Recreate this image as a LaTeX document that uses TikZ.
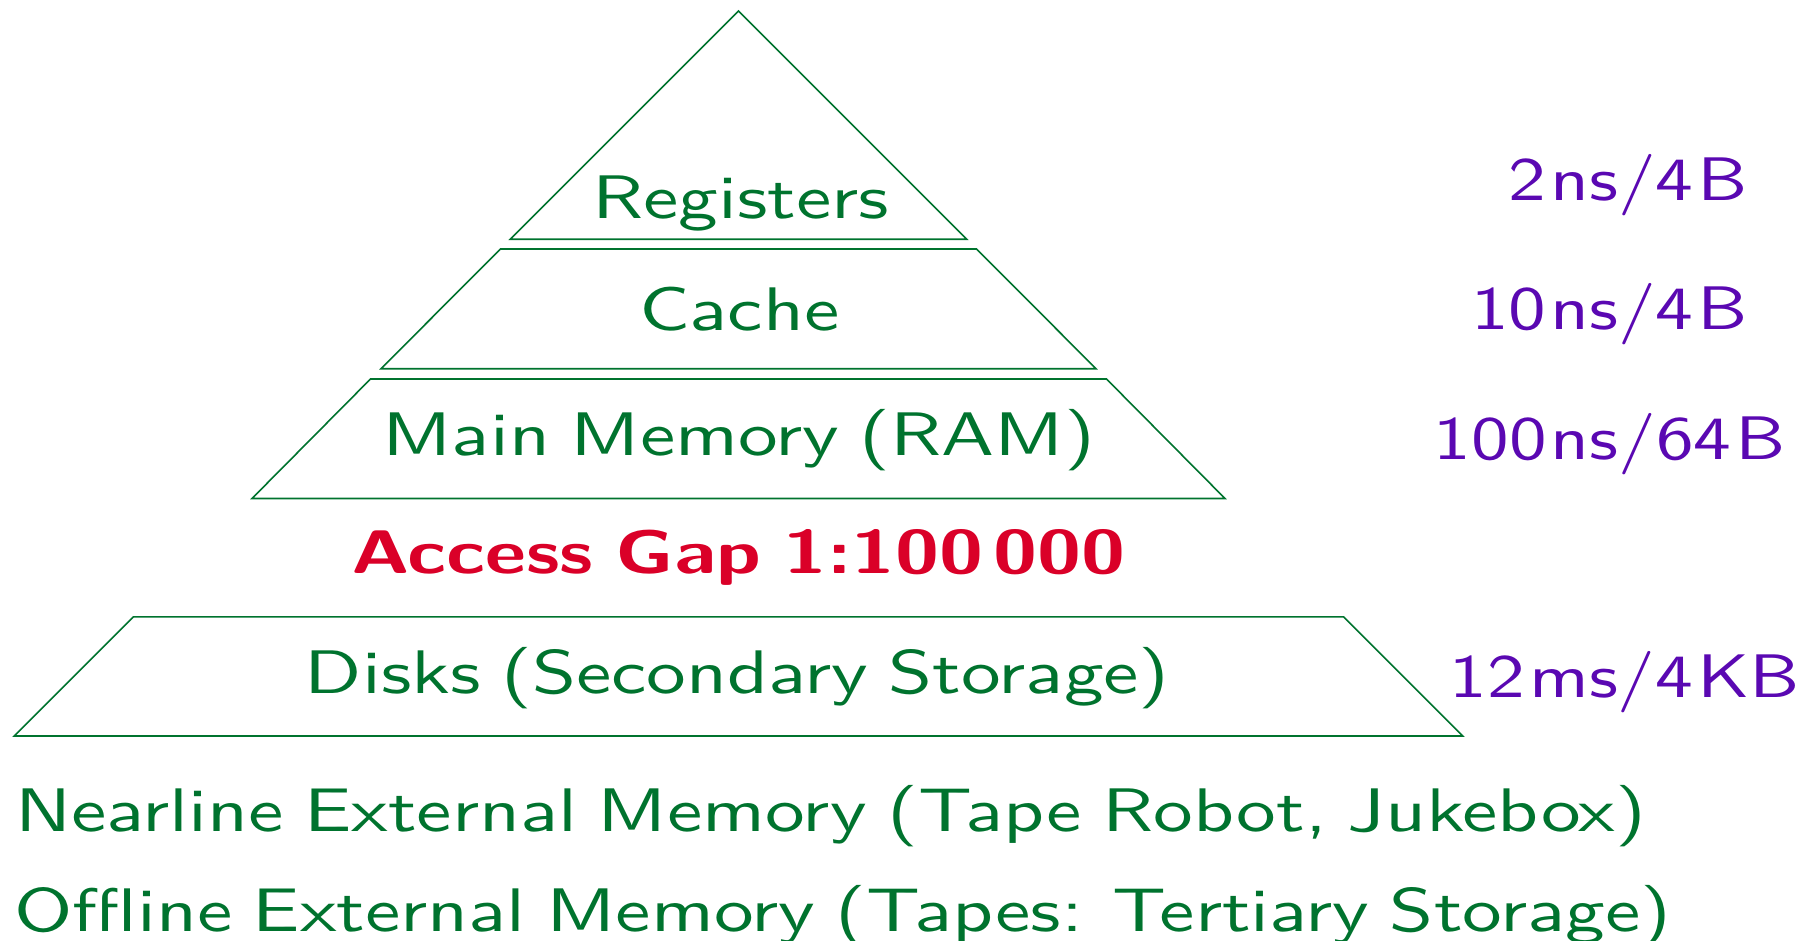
\documentclass[tikz,border=0pt]{standalone}
\font\grfont="[lmsans10-regular]:mapping=tex-text;extend=1.29" at 61.5pt
\fontdimen2\grfont=20.5pt
\font\tmfont="[lmsans10-regular]:mapping=tex-text;extend=1.225" at 61.5pt
\font\bxfont="[lmsans10-bold]:mapping=tex-text;extend=1.3" at 61.5pt
\fontdimen2\bxfont=22pt
\definecolor{grn}{RGB}{0,115,46}
\definecolor{prp}{RGB}{90,8,178}
\definecolor{rd}{RGB}{218,0,40}
\newcommand{\tsp}{\kern 4pt}
\tikzset{
  lvl/.style={draw=grn, line width=1.6pt, line join=miter},
  lbl/.style={text=grn, font=\grfont, inner sep=0pt, anchor=base},
  leftlbl/.style={text=grn, font=\grfont, inner sep=0pt, anchor=base west},
  tim/.style={text=prp, font=\tmfont, inner sep=0pt, anchor=base east},
  gap/.style={text=rd, font=\bxfont, inner sep=0pt, anchor=base}
}
\begin{document}
\begin{tikzpicture}[x=1pt,y=-1pt]
\useasboundingbox (0,0) rectangle (1818,941);
% pyramid levels
\draw[lvl] (738.5,11) -- (966.8,239.3) -- (510.2,239.3) -- cycle;
\draw[lvl] (500.5,249) -- (976.5,249) -- (1096,368.7) -- (381,368.7) -- cycle;
\draw[lvl] (370.5,379) -- (1106.5,379) -- (1225,498.5) -- (252,498.5) -- cycle;
\draw[lvl] (133.5,616.8) -- (1343.5,616.8) -- (1462.7,736) -- (14.3,736) -- cycle;
% labels
\node[lbl] (reg) at (740.5,218.3) {Registers};
\node[lbl] (cache) at (739.2,330.7) {Cache};
\node[lbl] (ram) at (738.9,455) {Main Memory (RAM)};
\node[gap] (gapl) at (738.3,573.3) {Access Gap 1:100\,000};
\node[lbl] (disk) at (737.4,693.5) {Disks (Secondary Storage)};
\node[leftlbl] (near) at (15,831.7) {Nearline External Memory (Tape Robot, Jukebox)};
\node[leftlbl] (off) at (14,931.7) {Offline External Memory (Tapes: Tertiary Storage)};
% access times
\node[tim] (t1) at (1748,201) {2\tsp ns/4\tsp B};
\node[tim] (t2) at (1748,330) {10\tsp ns/4\tsp B};
\node[tim] (t3) at (1786,459.3) {100\tsp ns/64\tsp B};
\node[tim] (t4) at (1800,697.3) {12\tsp ms/4\tsp KB};
\end{tikzpicture}
\end{document}
